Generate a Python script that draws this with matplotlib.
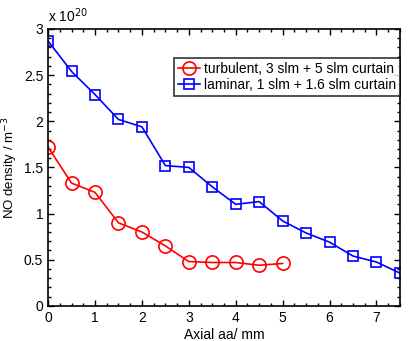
import numpy as np
import matplotlib.pyplot as plt
from matplotlib.ticker import MultipleLocator

plt.rcParams["font.family"] = ["Liberation Sans", "DejaVu Sans"]

pos_turb = [0, 0.5, 1, 1.5, 2, 2.5, 3, 3.5, 4, 4.5, 5]
no_turb = [1.72, 1.33, 1.23, 0.90, 0.80, 0.65, 0.48, 0.47, 0.47, 0.44, 0.46]

pos_lam = [0, 0.5, 1, 1.5, 2, 2.5, 3, 3.5, 4, 4.5, 5, 5.5, 6, 6.5, 7, 7.5]
no_lam = [2.87, 2.54, 2.29, 2.02, 1.94, 1.52, 1.50, 1.29, 1.10, 1.13,
          0.92, 0.79, 0.69, 0.54, 0.475, 0.355]

fig = plt.figure(figsize=(4.11, 3.41), dpi=100)
ax = fig.add_axes([0.117, 0.103, 0.856, 0.812])

ax.plot(pos_turb, no_turb, "-o", color="red", lw=1.2, ms=9.5,
        mfc="none", mew=1.2, label="turbulent, 3 slm + 5 slm curtain")
ax.plot(pos_lam, no_lam, "-s", color="blue", lw=1.2, ms=7,
        mfc="none", mew=1.2, label="laminar, 1 slm + 1.6 slm curtain")

ax.set_xlim(0, 7.5)
ax.set_ylim(0, 3)
ax.xaxis.set_major_locator(MultipleLocator(1))
ax.xaxis.set_minor_locator(MultipleLocator(0.25))
ax.yaxis.set_major_locator(MultipleLocator(0.5))
ax.yaxis.set_minor_locator(MultipleLocator(0.1))
ax.set_yticklabels([f"{v:g}" for v in ax.get_yticks()])
ax.tick_params(which="both", direction="in", top=True, right=True,
               labelsize=10, width=1.0)
ax.tick_params(which="major", length=4)
ax.tick_params(which="minor", length=2)
for s in ax.spines.values():
    s.set_linewidth(1.2)

ax.set_xlabel("Axial aa/ mm", fontsize=10, labelpad=2)
ax.set_ylabel("NO density / m$^{-3}$", fontsize=9.5)
ax.yaxis.set_label_coords(-0.08, 0.5)
ax.text(0, 1.015, "x 10$^{20}$", transform=ax.transAxes, fontsize=10,
        ha="left", va="bottom")

leg = ax.legend(loc="upper right", bbox_to_anchor=(1.0, 0.895), fontsize=10,
                frameon=True, fancybox=False, edgecolor="black",
                handlelength=1.6, handletextpad=0.3, borderpad=0.25,
                labelspacing=0.2, borderaxespad=0)
leg.get_frame().set_linewidth(1.2)

fig.savefig("out.png", dpi=100)
